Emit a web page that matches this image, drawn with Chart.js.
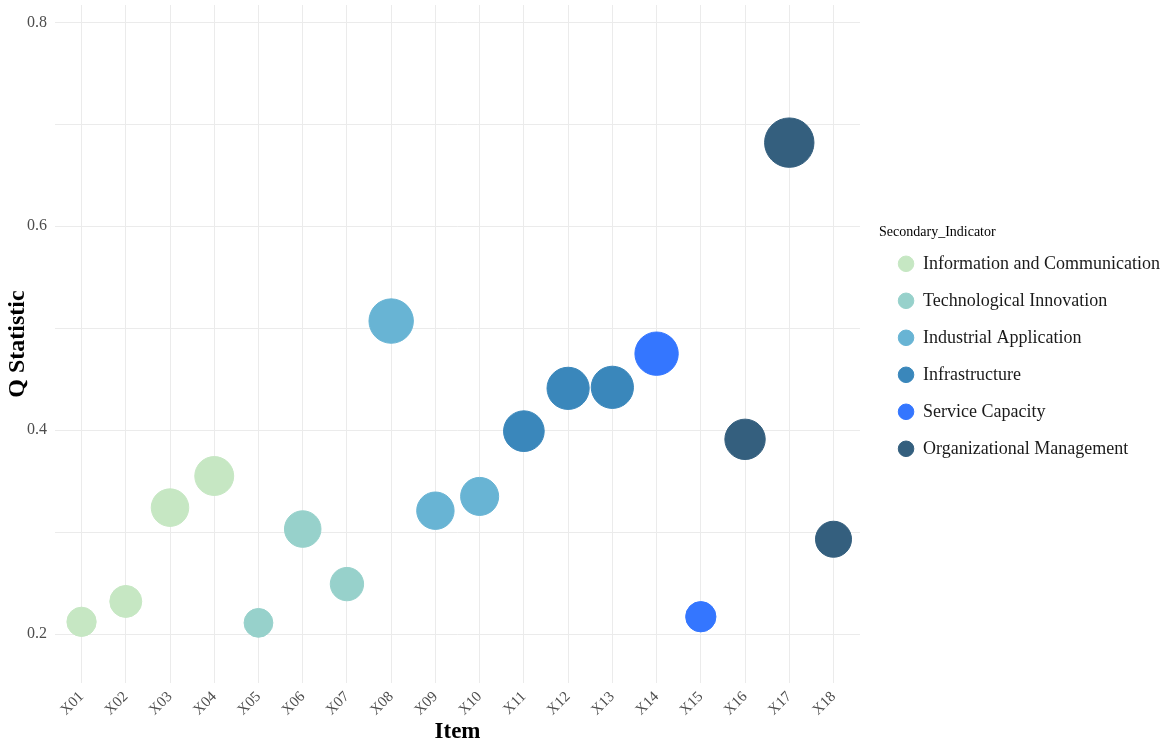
<!DOCTYPE html>
<html>
<head>
<meta charset="utf-8">
<title>Q Statistic by Item</title>
<script src="https://cdn.jsdelivr.net/npm/chart.js@4.4.1/dist/chart.umd.min.js"></script>
<style>
  html, body { margin: 0; padding: 0; background: #ffffff; }
  .canvas-container { width: 1170px; height: 746px; position: relative; }
</style>
</head>
<body>
<div class="canvas-container">
  <canvas id="qStatChart" role="img" aria-label="Bubble chart of Q statistic by item"></canvas>
</div>
<script>
// items on the x axis
const items = ['X01', 'X02', 'X03', 'X04', 'X05', 'X06', 'X07', 'X08', 'X09',
  'X10', 'X11', 'X12', 'X13', 'X14', 'X15', 'X16', 'X17', 'X18'];

// Q statistic per item
const qValues = [0.212, 0.232, 0.324, 0.355, 0.211, 0.303, 0.249, 0.507, 0.321,
  0.335, 0.399, 0.441, 0.442, 0.475, 0.217, 0.391, 0.682, 0.293];

// which secondary indicator each item belongs to (index into indicators)
const itemGroup = [0, 0, 0, 0, 1, 1, 1, 2, 2, 2, 3, 3, 3, 4, 4, 5, 5, 5];

const indicators = ['Information and Communication', 'Technological Innovation',
  'Industrial Application', 'Infrastructure', 'Service Capacity',
  'Organizational Management'];

const indicatorColors = ['#c6e7c3', '#97d1cb', '#68b4d4', '#3a87bb', '#3476ff', '#345f7e'];

const yTicks = [0.2, 0.3, 0.4, 0.5, 0.6, 0.7, 0.8];

// bubble radius grows with Q (like ggplot's size scale)
const qMin = Math.min(...qValues);
const qMax = Math.max(...qValues);
var radiusFor = q => {
  const t = (q - qMin) / (qMax - qMin);
  return 14.4 + 10.3 * Math.pow(t, 0.6);
};

const datasets = indicators.map((name, g) => {
  const points = [];
  for (let i = 0; i < items.length; i++) {
    if (itemGroup[i] === g) {
      points.push({ x: i + 1, y: qValues[i], r: radiusFor(qValues[i]) });
    }
  }
  return {
    label: name,
    data: points,
    backgroundColor: indicatorColors[g],
    borderColor: indicatorColors[g],
    borderWidth: 1,
    hoverRadius: 0,
  };
});

const serif = "'Liberation Serif', 'Times New Roman', serif";
const gridColor = '#ebebeb';

// drop the label padding chart.js adds around the panel
var noScalePadding = scale => {
  scale.paddingTop = 0;
  scale.paddingBottom = 0;
  scale.paddingLeft = 0;
  scale.paddingRight = 0;
};

const ctx = document.getElementById('qStatChart');

new Chart(ctx, {
  type: 'bubble',
  data: { datasets: datasets },
  options: {
    responsive: true,
    maintainAspectRatio: false,
    animation: false,
    layout: { padding: { top: 5, left: 0, right: 0, bottom: 0 }, autoPadding: false },
    plugins: {
      tooltip: { enabled: false },
      legend: {
        position: 'right',
        align: 'start',
        maxWidth: 330,
        title: {
          display: true,
          text: 'Secondary_Indicator',
          color: '#000000',
          position: 'start',
          font: { family: serif, size: 14 },
          padding: { top: 220, bottom: -6 },
        },
        labels: {
          usePointStyle: true,
          pointStyle: 'circle',
          boxWidth: 16,
          boxHeight: 11,
          padding: 19,
          color: '#1a1a1a',
          font: { family: serif, size: 18 },
        },
      },
    },
    scales: {
      x: {
        type: 'linear',
        min: 0.4,
        max: 18.6,
        afterBuildTicks: scale => {
          scale.ticks = items.map((_, i) => ({ value: i + 1 }));
        },
        afterFit: scale => {
          scale.height = 63;
          noScalePadding(scale);
        },
        ticks: {
          autoSkip: false,
          maxRotation: 45,
          minRotation: 45,
          padding: 5,
          color: '#4d4d4d',
          font: { family: serif, size: 15 },
          callback: value => items[value - 1],
        },
        grid: { color: gridColor, lineWidth: 1, drawTicks: false },
        border: { display: false },
        title: {
          display: true,
          text: 'Item',
          color: '#000000',
          font: { family: serif, size: 23, weight: 'bold' },
          padding: { top: 0, bottom: 0 },
        },
      },
      y: {
        type: 'linear',
        min: 0.152,
        max: 0.817,
        afterBuildTicks: scale => {
          scale.ticks = yTicks.map(v => ({ value: v }));
        },
        afterFit: scale => {
          scale.width = 55;
          noScalePadding(scale);
        },
        ticks: {
          padding: 8,
          color: '#4d4d4d',
          font: { family: serif, size: 16 },
          callback: value => (Math.round(value * 10) % 2 === 0 ? value.toFixed(1) : ''),
        },
        grid: { color: gridColor, lineWidth: 1, drawTicks: false },
        border: { display: false },
        title: {
          display: true,
          text: 'Q Statistic',
          color: '#000000',
          font: { family: serif, size: 24, weight: 'bold' },
          padding: { top: 3, bottom: 0 },
        },
      },
      // empty spacer so the panel stops short of the legend
      spacer: {
        type: 'linear',
        position: 'right',
        display: true,
        afterFit: scale => {
          scale.width = 19;
          noScalePadding(scale);
        },
        ticks: { display: false },
        grid: { display: false },
        border: { display: false },
      },
    },
  },
});
</script>
</body>
</html>
